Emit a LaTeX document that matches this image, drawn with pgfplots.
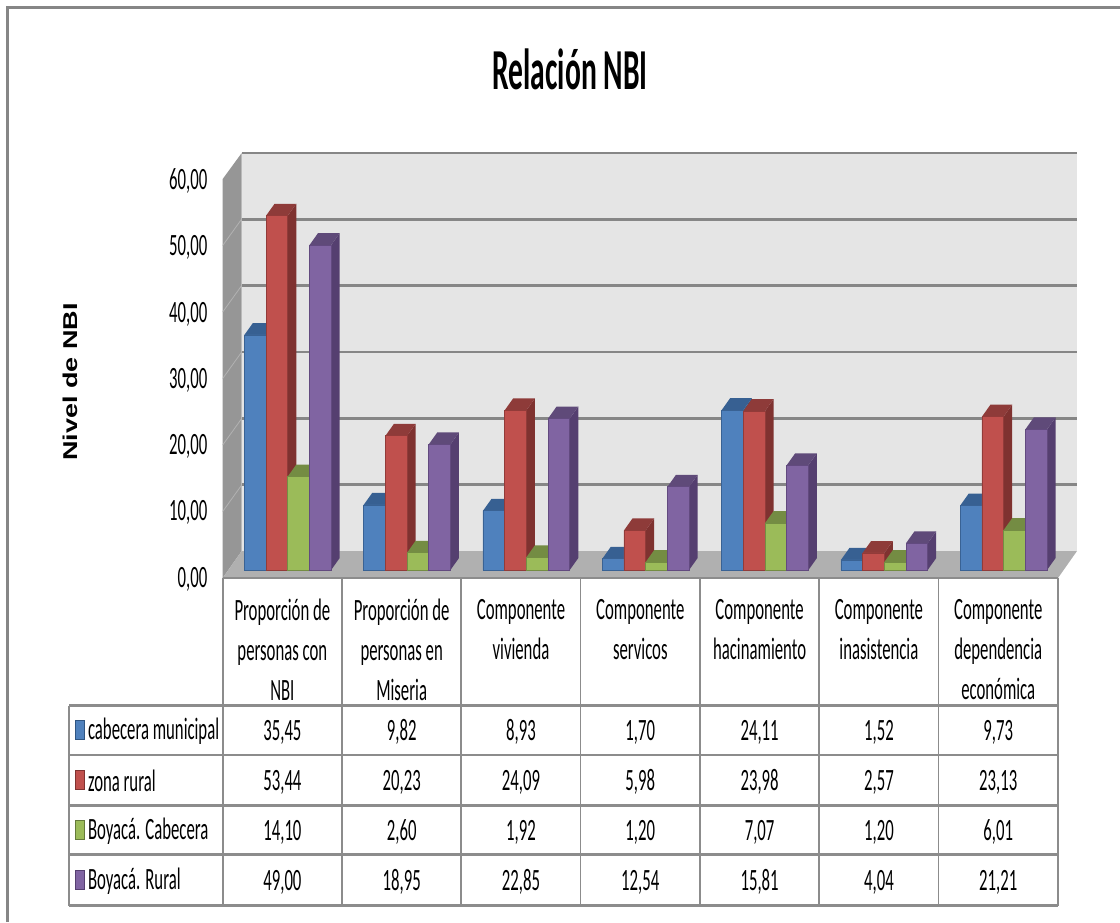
\documentclass[border=0pt]{standalone}
\usepackage{pgfplots}
\usepackage{pgfplotstable}
\usepackage{fontspec}
\pgfplotsset{compat=1.18}
\setmainfont{Carlito}[FakeStretch=0.54]
\newfontfamily\titlefont{Carlito}[FakeStretch=0.51]
\newfontfamily\ylabfont{Liberation Sans}[FakeStretch=1.35]
\definecolor{cblue}{HTML}{4F81BD}\definecolor{cbluetop}{HTML}{376092}\definecolor{cblueside}{HTML}{2F5582}
\definecolor{cred}{HTML}{C0504D}\definecolor{credtop}{HTML}{8E3B39}\definecolor{credside}{HTML}{7F3230}
\definecolor{cgreen}{HTML}{9BBB59}\definecolor{cgreentop}{HTML}{748C43}\definecolor{cgreenside}{HTML}{64793A}
\definecolor{cpurple}{HTML}{8064A2}\definecolor{cpurpletop}{HTML}{5F4A79}\definecolor{cpurpleside}{HTML}{553F70}
\definecolor{gridg}{HTML}{868686}
\definecolor{cellg}{HTML}{8C8C8C}
\pgfplotstableread{
x cab rur boc bor
0 35.45 53.44 14.10 49.00
1 9.82 20.23 2.60 18.95
2 8.93 24.09 1.92 22.85
3 1.70 5.98 1.20 12.54
4 24.11 23.98 7.07 15.81
5 1.52 2.57 1.20 4.04
6 9.73 23.13 6.01 21.21
}\datatable
% #1 column, #2 colour base, #3 shift in categories, #4 shift in pt
\newcommand\barseries[4]{%
  \pgfplotsforeachungrouped \rr in {0,1,2,3,4,5,6}{%
    \pgfplotstablegetelem{\rr}{#1}\of\datatable
    \let\vv\pgfplotsretval
    \pgfmathsetmacro\xl{\rr+#3-0.0909}%
    \pgfmathsetmacro\xr{\rr+#3+0.0909}%
    \pgfmathsetmacro\xlb{\xl+0.0712}%
    \pgfmathsetmacro\xrb{\xr+0.0712}%
    \pgfmathsetmacro\vb{\vv+1.8}%
    \edef\temp{\noexpand\addplot[fill=#2side,draw=none,mark=none,forget plot] coordinates {(\xr,0)(\xrb,1.8)(\xrb,\vb)(\xr,\vv)};
      \noexpand\addplot[fill=#2top,draw=none,mark=none,forget plot] coordinates {(\xl,\vv)(\xr,\vv)(\xrb,\vb)(\xlb,\vb)};}%
    \temp
  }%
  \addplot[ybar,bar width=10.85pt,bar shift=#4pt,fill=#2,draw=#2side!70!#2,line width=.4pt,mark=none]
    table[x=x,y=#1]{\datatable};
}
\newcommand\rowvals[9]{%
  \node[anchor=west,font=\fontsize{15.5}{20}\selectfont] at (88,{#1+1}) {#2};
  \fill[#3,draw=#3side,line width=.5pt] (75,{#1-9.5}) rectangle (84,{#1+9.5});
  \node[font=\fontsize{15.5}{20}\selectfont] at (282.4,{#1+2}) {#4};
  \node[font=\fontsize{15.5}{20}\selectfont] at (401.7,{#1+2}) {#5};
  \node[font=\fontsize{15.5}{20}\selectfont] at (521,{#1+2}) {#6};
  \node[font=\fontsize{15.5}{20}\selectfont] at (640.3,{#1+2}) {#7};
  \node[font=\fontsize{15.5}{20}\selectfont] at (759.6,{#1+2}) {#8};
  \node[font=\fontsize{15.5}{20}\selectfont] at (878.9,{#1+2}) {#9};
}
\begin{document}
\begin{tikzpicture}[x=.5pt,y=-.5pt,every node/.style={inner sep=0pt,outer sep=0pt}]
\path[use as bounding box] (0,0) rectangle (1120,922);
\fill[white] (0,0) rectangle (1120,922);
\draw[line width=1.5pt,gridg] (7,922) -- (7,7) -- (1120,7);
% walls of the 3D box
\fill[black!41] (222.7,179) -- (241.7,153) -- (241.7,551) -- (222.7,578) -- cycle;
\foreach \k in {1,...,5} \draw[line width=.4pt,black!30] (222.7,{578-66.5*\k}) -- (241.7,{551.5-66.5*\k});
\fill[black!31] (222.7,578) -- (241.7,551) -- (1077,551) -- (1058,578) -- cycle;
% back wall
\begin{axis}[at={(120.85pt,-275.5pt)},anchor=south west,scale only axis,
  width=417.65pt,height=199pt,xmin=0,xmax=1,ymin=0,ymax=60,
  axis line style={draw=none},axis background/.style={fill=black!10},
  xtick=\empty,ytick={10,20,30,40,50,60},yticklabels={},
  tick style={draw=none},ymajorgrids,
  grid style={gridg,line width=1.4pt}]
\end{axis}
% table
\foreach \y in {705.7,755,805.7,854.3,905.7} \draw[cellg,line width=1.4pt] (69,\y) -- (1058,\y);
\draw[cellg,line width=1.2pt] (69,705.7) -- (69,905.7);
\foreach \k in {0,...,7} \draw[cellg,line width=.85pt] ({222.7+119.3*\k},578) -- ({222.7+119.3*\k},905.7);
\draw[black!45,line width=1.3pt] (222.7,578) -- (1058,578);
% bars
\begin{axis}[at={(114.05pt,-285pt)},anchor=south west,scale only axis,
  width=417.6pt,height=198.9pt,xmin=-.5,xmax=6.5,ymin=0,ymax=60,
  clip=false,axis line style={draw=none},tick style={draw=none},
  ytick={0,10,20,30,40,50,60},
  yticklabel style={/pgf/number format/fixed,/pgf/number format/fixed zerofill,
    /pgf/number format/precision=2,/pgf/number format/use comma,
    /pgf/number format/assume math mode=true,
    font=\fontsize{15.5}{20}\selectfont,anchor=east,xshift=-10.4pt,yshift=-4.6pt},
  xtick={0,1,2,3,4,5,6},
  xticklabels={{Proporción de\\personas con\\NBI},{Proporción de\\personas en\\Miseria},
    {Componente\\vivienda},{Componente\\servicos},{Componente\\hacinamiento},
    {Componente\\inasistencia},{Componente\\dependencia\\económica}},
  xticklabel style={align=center,font=\fontsize{15.5}{20}\selectfont,anchor=north,xshift=-2.7pt,yshift=-14.5pt},
  title={\titlefont\fontsize{29}{32}\selectfont\bfseries Relación NBI},
  title style={at={(0,0)},anchor=center,xshift=171pt,yshift=244.5pt},
  ylabel={\ylabfont\fontsize{10}{12}\selectfont\bfseries Nivel de NBI},
  ylabel style={at={(0,0)},anchor=center,xshift=94pt,yshift=79pt}]
\barseries{cab}{cblue}{-0.2728}{-16.275}
\barseries{rur}{cred}{-0.0909}{-5.425}
\barseries{boc}{cgreen}{0.0909}{5.425}
\barseries{bor}{cpurple}{0.2728}{16.275}
\end{axis}
\rowvals{730}{cabecera municipal}{cblue}{35,45}{9,82}{8,93}{1,70}{24,11}{1,52}
\rowvals{780}{zona rural}{cred}{53,44}{20,23}{24,09}{5,98}{23,98}{2,57}
\rowvals{830}{Boyacá. Cabecera}{cgreen}{14,10}{2,60}{1,92}{1,20}{7,07}{1,20}
\rowvals{880}{Boyacá. Rural}{cpurple}{49,00}{18,95}{22,85}{12,54}{15,81}{4,04}
\node[font=\fontsize{15.5}{20}\selectfont] at (998.2,732) {9,73};
\node[font=\fontsize{15.5}{20}\selectfont] at (998.2,782) {23,13};
\node[font=\fontsize{15.5}{20}\selectfont] at (998.2,832) {6,01};
\node[font=\fontsize{15.5}{20}\selectfont] at (998.2,882) {21,21};
\end{tikzpicture}
\end{document}
